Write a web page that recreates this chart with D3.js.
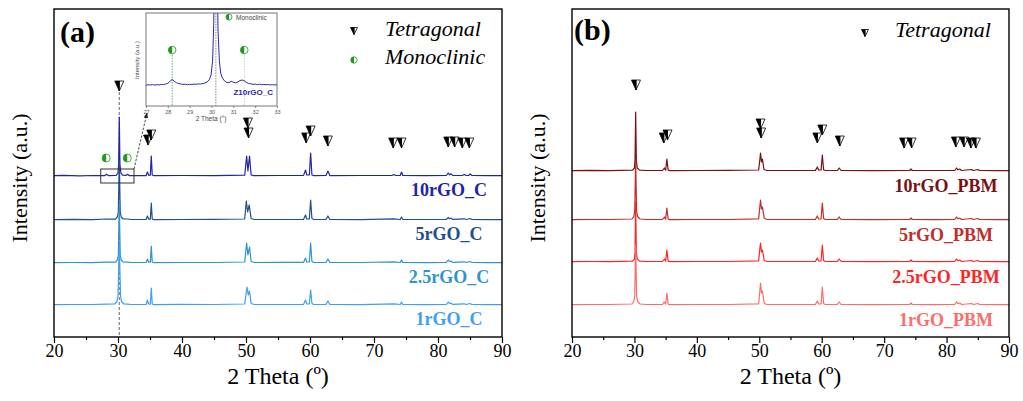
<!DOCTYPE html>
<html>
<head>
<meta charset="utf-8">
<script src="https://cdn.jsdelivr.net/npm/d3@7"></script>
<style>
body { margin: 0; background: #fff; }
text { font-family: "Liberation Serif", "Times New Roman", serif; }
.sans { font-family: "Liberation Sans", Arial, sans-serif; }
</style>
</head>
<body>
<svg width="1023" height="401"></svg>
<script>
// ---- data (2 theta in degrees, intensity in a.u.) ----
var ticksX = [20, 30, 40, 50, 60, 70, 80, 90];
var minorX = [25, 35, 45, 55, 65, 75, 85];
var insetTicks = [27, 28, 29, 30, 31, 32, 33];

var namesA = ["10rGO_C", "5rGO_C", "2.5rGO_C", "1rGO_C"];
var namesB = ["10rGO_PBM", "5rGO_PBM", "2.5rGO_PBM", "1rGO_PBM"];
var offsetsA = [161, 117, 74, 32];
var offsetsB = [166, 117, 75, 32];
var colorsA = ["#2323a8", "#1f4f8c", "#2d95cc", "#3d9ff5"];
var colorsB = ["#7a0f14", "#bf2e2a", "#ff2424", "#ff6b6b"];

var c10 = [[20,0.3],[21.5,0.6],[24,0.2],[26,0.5],[27.9,0.3],[28.2,1.8],[28.5,0.4],[29.7,0.6],[30.0,3],[30.1,12],[30.2,59],[30.3,12],[30.45,3],[30.7,0.8],[31.2,0.6],[31.45,1.6],[31.8,0.4],[34.4,0.4],[34.6,4],[34.8,0.6],[35.05,0.8],[35.2,20],[35.35,1],[35.6,0.3],[40,0.5],[45,0.4],[49.8,0.8],[50.1,20],[50.3,5],[50.55,20],[50.8,1],[51.2,0.4],[55,0.5],[59.0,0.6],[59.3,6],[59.5,1],[59.9,1],[60.1,23],[60.3,1],[60.6,0.4],[62.5,0.5],[62.8,5],[63.1,0.4],[68,0.5],[72.8,0.5],[73.1,1.5],[73.4,0.5],[74.1,0.5],[74.3,4],[74.5,0.5],[78,0.4],[81.3,0.5],[81.6,3],[81.8,1.2],[82.0,2.2],[82.3,0.6],[83.8,0.5],[84.1,1.5],[84.4,0.5],[84.8,0.6],[85.0,2],[85.3,0.5],[88,0.4],[90,0.3]];
var c5 = [[20,0.3],[23,0.6],[26,0.4],[28.2,1],[29.6,0.9],[29.9,3],[30.05,8],[30.2,60],[30.35,8],[30.5,3],[30.8,1],[31.5,1],[32,0.5],[34.4,0.5],[34.6,4],[34.8,0.8],[35.05,0.9],[35.2,17],[35.35,1],[35.6,0.4],[40,0.5],[45,0.6],[49.8,1],[50.05,19],[50.25,8],[50.5,15],[50.8,1.5],[51.3,0.5],[55,0.5],[59.0,0.7],[59.3,5],[59.5,1],[59.9,1.2],[60.1,20],[60.3,1.5],[60.6,0.5],[62.5,0.6],[62.8,4],[63.1,0.5],[68,0.4],[73.1,1.2],[74.1,0.5],[74.3,3],[74.5,0.5],[78,0.5],[81.3,0.6],[81.6,2.5],[81.8,1.2],[82.0,2],[82.3,0.6],[84.1,1.2],[84.4,0.5],[85.0,1.5],[85.3,0.5],[88,0.4],[90,0.3]];
var c25 = [[20,0.3],[23,0.5],[26,0.4],[28.2,0.9],[29.6,0.9],[29.9,3],[30.05,8],[30.2,60],[30.35,8],[30.5,3],[30.8,1],[31.5,0.9],[32,0.5],[34.4,0.5],[34.6,4],[34.8,0.8],[35.05,0.9],[35.2,17],[35.35,1],[35.6,0.4],[40,0.5],[45,0.5],[49.8,1],[50.1,20],[50.3,8],[50.55,16],[50.8,1.5],[51.3,0.5],[55,0.6],[59.0,0.7],[59.3,5],[59.5,1],[59.9,1.2],[60.1,20],[60.3,1.5],[60.6,0.5],[62.5,0.6],[62.8,4],[63.1,0.5],[68,0.5],[73.1,1.2],[74.1,0.5],[74.3,3],[74.5,0.5],[78,0.4],[81.3,0.6],[81.6,3],[81.8,1.3],[82.0,2],[82.3,0.6],[84.1,1.2],[84.4,0.5],[85.0,1.5],[85.3,0.5],[88,0.4],[90,0.3]];
var c1 = [[20,0.3],[23,0.5],[26,0.5],[28.2,0.9],[29.5,1],[29.85,3.5],[30.0,9],[30.2,60],[30.4,9],[30.55,3.5],[30.9,1],[31.5,0.9],[32,0.5],[34.4,0.5],[34.6,5],[34.8,0.8],[35.05,0.9],[35.2,17],[35.35,1],[35.6,0.4],[40,0.6],[45,0.5],[49.8,1],[50.15,18],[50.35,10],[50.55,14],[50.8,1.5],[51.3,0.5],[55,0.5],[59.0,0.7],[59.3,5],[59.5,1],[59.9,1.2],[60.1,15],[60.3,1.5],[60.6,0.5],[62.5,0.6],[62.8,4],[63.1,0.5],[68,0.4],[73.1,1.2],[74.1,0.5],[74.3,3],[74.5,0.5],[78,0.4],[81.3,0.6],[81.6,3],[81.8,1.3],[82.0,2],[82.3,0.6],[84.1,1.2],[84.4,0.5],[85.0,1.5],[85.3,0.5],[88,0.4],[90,0.3]];

var p10 = [[20,0.3],[23,0.6],[26,0.4],[29.7,0.8],[30.0,3],[30.1,12],[30.2,59],[30.3,12],[30.45,3],[30.8,0.8],[32,0.5],[34.5,0.5],[34.8,3],[35.0,0.8],[35.2,12],[35.4,0.8],[35.7,0.4],[40,0.5],[45,0.6],[49.9,1],[50.1,12],[50.2,18],[50.35,9],[50.5,12],[50.75,1.5],[51.2,0.5],[55,0.5],[59.0,0.6],[59.3,4],[59.5,1],[59.9,1],[60.1,16],[60.3,1.2],[60.6,0.5],[62.5,0.5],[62.8,3],[63.1,0.5],[68,0.4],[74.1,0.5],[74.3,2],[74.5,0.5],[78,0.5],[81.3,0.5],[81.6,3],[81.8,1.2],[82.1,2],[82.4,0.5],[84.0,1.5],[84.3,0.5],[85.0,1.5],[85.3,0.5],[88,0.4],[90,0.3]];
var p5 = [[20,0.3],[23,0.5],[26,0.5],[29.6,1],[29.9,3.5],[30.05,9],[30.2,60],[30.35,9],[30.5,3.5],[30.9,1],[32,0.5],[34.5,0.5],[34.8,3],[35.0,0.8],[35.2,12],[35.4,0.8],[35.7,0.4],[40,0.5],[45,0.5],[49.9,1.2],[50.1,14],[50.2,20],[50.35,11],[50.5,13],[50.8,1.5],[51.3,0.5],[55,0.5],[59.0,0.7],[59.3,4],[59.5,1],[59.9,1.2],[60.1,17],[60.3,1.5],[60.6,0.5],[62.5,0.6],[62.8,3],[63.1,0.5],[68,0.4],[74.1,0.5],[74.3,2],[74.5,0.5],[78,0.4],[81.3,0.6],[81.6,3],[81.8,1.3],[82.1,2],[82.4,0.5],[84.0,1.5],[84.3,0.5],[85.0,1.5],[85.3,0.5],[88,0.4],[90,0.3]];
var p25 = [[20,0.3],[23,0.5],[26,0.4],[29.7,0.9],[30.0,3],[30.1,10],[30.2,60],[30.3,10],[30.45,3],[30.8,0.9],[32,0.5],[34.5,0.5],[34.8,3],[35.0,0.8],[35.2,12],[35.4,0.8],[35.7,0.4],[40,0.5],[45,0.5],[49.9,1.2],[50.1,14],[50.2,19],[50.35,10],[50.5,12],[50.8,1.5],[51.3,0.5],[55,0.5],[59.0,0.7],[59.3,4],[59.5,1],[59.9,1.2],[60.1,17],[60.3,1.5],[60.6,0.5],[62.5,0.6],[62.8,3],[63.1,0.5],[68,0.4],[74.1,0.5],[74.3,2],[74.5,0.5],[78,0.4],[81.3,0.6],[81.6,3],[81.8,1.3],[82.1,2],[82.4,0.5],[84.0,1.5],[84.3,0.5],[85.0,1.5],[85.3,0.5],[88,0.4],[90,0.3]];
var p1 = [[20,0.3],[23,0.5],[26,0.5],[29.6,1],[29.9,3.5],[30.05,9],[30.2,60],[30.35,9],[30.5,3.5],[30.9,1],[32,0.5],[34.5,0.5],[34.75,3],[35.0,0.8],[35.2,12],[35.4,0.8],[35.7,0.4],[40,0.5],[45,0.5],[49.9,1.2],[50.1,15],[50.2,22],[50.35,12],[50.5,14],[50.8,1.5],[51.3,0.5],[55,0.5],[59.0,0.7],[59.3,4],[59.5,1],[59.9,1.2],[60.1,18],[60.3,1.5],[60.6,0.5],[62.5,0.6],[62.8,3],[63.1,0.5],[68,0.4],[74.1,0.5],[74.3,2],[74.5,0.5],[78,0.4],[81.3,0.6],[81.6,3],[81.8,1.3],[82.1,2],[82.4,0.5],[84.0,1.5],[84.3,0.5],[85.0,1.5],[85.3,0.5],[88,0.4],[90,0.3]];

var tracesA = [c10, c5, c25, c1];
var tracesB = [p10, p5, p25, p1];

// reflection markers [2 theta, height in a.u.]
var tetraA = [[30.2,251],[34.7,197],[35.2,202],[50.3,214],[50.4,204],[59.4,199],[60.1,206],[62.8,196],[73.0,194],[74.3,194],[81.6,195],[82.6,195],[83.8,194],[84.9,194]];
var tetraB = [[30.25,252],[34.7,199],[35.3,202],[50.2,213],[50.3,204],[59.3,199],[60.1,207],[62.9,196],[73.2,194],[74.4,194],[81.5,195],[82.8,195],[83.9,194],[84.7,194]];
var monoA = [[28.15,179],[31.45,179]];

// zoomed inset of 10rGO_C between 27 and 33 degrees
var insetTrace = [[27.0,20.8],[27.1,21.3],[27.2,21.0],[27.3,21.4],[27.4,20.9],[27.5,21.3],[27.6,21.1],[27.7,21.6],[27.8,21.4],[27.9,22.0],[28.0,22.8],[28.1,24.6],[28.2,26.6],[28.3,24.6],[28.4,23.2],[28.5,22.4],[28.6,22.0],[28.7,21.6],[28.8,21.8],[28.9,21.3],[29.0,21.7],[29.1,21.5],[29.2,21.9],[29.3,21.7],[29.4,22.1],[29.5,22.0],[29.6,22.5],[29.7,23.0],[29.8,24.0],[29.9,26.5],[29.98,31],[30.05,45],[30.1,80],[30.14,130],[30.26,130],[30.3,75],[30.36,45],[30.42,33],[30.5,28],[30.6,25],[30.7,23.6],[30.8,23.4],[30.9,24.6],[31.0,23.8],[31.1,23.2],[31.2,24.0],[31.3,25.4],[31.4,26.0],[31.5,25.2],[31.6,23.6],[31.7,22.6],[31.8,22.2],[31.9,21.6],[32.0,21.9],[32.1,21.4],[32.2,21.8],[32.3,21.3],[32.4,21.6],[32.5,21.2],[32.6,21.5],[32.7,21.1],[32.8,21.4],[32.9,21.0],[33.0,21.3]];
var insetMono = [[28.2,56],[31.5,56]];
var insetBoxX = [27.3, 32.5];
var insetBoxY = [154, 168];

// ---- drawing ----
var svg = d3.select("svg");
var y = d3.scaleLinear().domain([0, 328]).range([337, 9]);
var xA = d3.scaleLinear().domain([20, 90]).range([54, 502]);
var xB = d3.scaleLinear().domain([20, 90]).range([572, 1009]);

var defs = svg.append("defs");
defs.append("marker").attr("id", "arrow")
    .attr("viewBox", "0 0 10 10").attr("refX", 9).attr("refY", 5)
    .attr("markerWidth", 7).attr("markerHeight", 7).attr("orient", "auto")
  .append("path").attr("d", "M0,1 L10,5 L0,9 Z").attr("fill", "#222");

function tetragonal(g, cx, cy, w, h) {
  var t = cy - h / 2, b = cy + h / 2;
  g.append("path")
      .attr("d", "M" + cx + "," + t + "L" + (cx + w / 2) + "," + t + "L" + cx + "," + b + "Z")
      .attr("fill", "#fff").attr("stroke", "#000").attr("stroke-width", 0.8);
  g.append("path")
      .attr("d", "M" + (cx - w / 2) + "," + t + "L" + cx + "," + t + "L" + cx + "," + b + "Z")
      .attr("fill", "#000").attr("stroke", "#000").attr("stroke-width", 0.8);
}

function monoclinic(g, cx, cy, r) {
  g.append("circle").attr("cx", cx).attr("cy", cy).attr("r", r)
      .attr("fill", "#fff").attr("stroke", "#1f9a1f").attr("stroke-width", 0.8);
  g.append("path")
      .attr("d", "M" + cx + "," + (cy - r) + "A" + r + "," + r + " 0 0 0 " + cx + "," + (cy + r) + "Z")
      .attr("fill", "#1f9a1f");
}

function panel(x, traces, offsets, colors, names, tetra, labelX, labelDy) {
  var g = svg.append("g");
  var line = d3.line().x(function(d) { return x(d[0]); });

  traces.forEach(function(tr, i) {
    var off = offsets[i];
    g.append("path")
        .attr("d", line.y(function(d) { return y(d[1] + off); })(tr))
        .attr("fill", "none").attr("stroke", colors[i])
        .attr("stroke-width", 1.2).attr("stroke-linejoin", "round");
    g.append("text")
        .attr("x", labelX).attr("y", y(off) + labelDy)
        .attr("text-anchor", "middle").attr("font-size", 18).attr("font-weight", "bold")
        .attr("fill", colors[i]).text(names[i]);
  });

  tetra.forEach(function(d) { tetragonal(g, x(d[0]), y(d[1]), 9, 10); });

  var ax = g.append("g").attr("transform", "translate(0,337)")
      .call(d3.axisBottom(x).tickValues(ticksX).tickSize(6).tickPadding(1));
  ax.select(".domain").remove();
  ax.selectAll("line").attr("stroke-width", 1.2);
  ax.selectAll("text").attr("font-size", 18).attr("fill", "#000")
      .style("font-family", "'Liberation Serif', serif");
  var mi = g.append("g").attr("transform", "translate(0,337)")
      .call(d3.axisBottom(x).tickValues(minorX).tickSize(3).tickFormat(""));
  mi.select(".domain").remove();
  mi.selectAll("line").attr("stroke-width", 1.2);

  g.append("rect")
      .attr("x", x(20)).attr("y", 9)
      .attr("width", x(90) - x(20)).attr("height", 328)
      .attr("fill", "none").attr("stroke", "#000").attr("stroke-width", 1.4);

  var mid = (x(20) + x(90)) / 2;
  g.append("text").attr("x", mid).attr("y", 384)
      .attr("text-anchor", "middle").attr("font-size", 24).text("2 Theta (º)");
  g.append("text")
      .attr("transform", "translate(" + (x(20) - 27) + ",178) rotate(-90)")
      .attr("text-anchor", "middle").attr("font-size", 22).text("Intensity (a.u.)");
  return g;
}

// dashed guide at the main reflection (drawn first, behind the traces)
svg.append("line")
    .attr("x1", xA(30.2)).attr("x2", xA(30.2))
    .attr("y1", y(tetraA[0][1]) + 6).attr("y2", 337)
    .attr("stroke", "#555").attr("stroke-width", 0.9).attr("stroke-dasharray", "3,2");

var gA = panel(xA, tracesA, offsetsA, colorsA, namesA, tetraA, 449, 20);
var gB = panel(xB, tracesB, offsetsB, colorsB, namesB, tetraB, 946, 21);

monoA.forEach(function(d) { monoclinic(gA, xA(d[0]), y(d[1]), 4); });

// zoom box and arrow
gA.append("rect")
    .attr("x", xA(insetBoxX[0])).attr("y", y(insetBoxY[1]))
    .attr("width", xA(insetBoxX[1]) - xA(insetBoxX[0]))
    .attr("height", y(insetBoxY[0]) - y(insetBoxY[1]))
    .attr("fill", "none").attr("stroke", "#333").attr("stroke-width", 1);
gA.append("line")
    .attr("x1", xA(insetBoxX[1])).attr("y1", y(insetBoxY[1]))
    .attr("x2", 147).attr("y2", 113)
    .attr("stroke", "#222").attr("stroke-width", 0.8).attr("stroke-dasharray", "2.5,1.5")
    .attr("marker-end", "url(#arrow)");

// inset
var ix = d3.scaleLinear().domain([27, 33]).range([146, 277]);
var iy = d3.scaleLinear().domain([0, 93]).range([106, 13]);
var gi = svg.append("g");
gi.append("rect").attr("x", 146).attr("y", 13).attr("width", 131).attr("height", 93).attr("fill", "#fff");
defs.append("clipPath").attr("id", "insetClip")
  .append("rect").attr("x", 146).attr("y", 13).attr("width", 131).attr("height", 93);

gi.append("line").attr("x1", ix(30.2)).attr("x2", ix(30.2)).attr("y1", 13).attr("y2", 106)
    .attr("stroke", "#555").attr("stroke-width", 0.7).attr("stroke-dasharray", "1.5,1.2");
gi.append("line").attr("x1", ix(insetMono[0][0])).attr("x2", ix(insetMono[0][0]))
    .attr("y1", iy(insetMono[0][1]) + 5).attr("y2", 106)
    .attr("stroke", "#2a8a2a").attr("stroke-width", 0.7).attr("stroke-dasharray", "1.5,1.2");
gi.append("line").attr("x1", ix(insetMono[1][0])).attr("x2", ix(insetMono[1][0]))
    .attr("y1", iy(insetMono[1][1]) + 5).attr("y2", 106)
    .attr("stroke", "#9ac79a").attr("stroke-width", 0.7).attr("stroke-dasharray", "1.5,1.2");

gi.append("path")
    .attr("clip-path", "url(#insetClip)")
    .attr("d", d3.line().x(function(d) { return ix(d[0]); }).y(function(d) { return iy(d[1]); })(insetTrace))
    .attr("fill", "none").attr("stroke", "#2a2ab0").attr("stroke-width", 1);

insetMono.forEach(function(d) { monoclinic(gi, ix(d[0]), iy(d[1]), 3.8); });
monoclinic(gi, 229, 17, 3);
gi.append("text").attr("class", "sans").attr("x", 236).attr("y", 19.5)
    .attr("font-size", 6.5).attr("fill", "#444").text("Monoclinic");
gi.append("text").attr("class", "sans").attr("x", 273).attr("y", 95)
    .attr("text-anchor", "end").attr("font-size", 8).attr("font-weight", "bold")
    .attr("fill", "#2a2ab0").text("Z10rGO_C");

var iax = gi.append("g").attr("transform", "translate(0,106)")
    .call(d3.axisBottom(ix).tickValues(insetTicks).tickSize(2).tickPadding(2).tickFormat(d3.format("d")));
iax.select(".domain").remove();
iax.selectAll("line").attr("stroke", "#444").attr("stroke-width", 0.6);
iax.selectAll("text").attr("font-size", 5.5).attr("fill", "#555")
    .style("font-family", "'Liberation Sans', Arial, sans-serif");
gi.append("rect").attr("x", 146).attr("y", 13).attr("width", 131).attr("height", 93)
    .attr("fill", "none").attr("stroke", "#555").attr("stroke-width", 0.8);
gi.append("text").attr("class", "sans").attr("x", 211).attr("y", 121)
    .attr("text-anchor", "middle").attr("font-size", 6.5).attr("fill", "#444").text("2 Theta (°)");
gi.append("text").attr("class", "sans")
    .attr("transform", "translate(139,60) rotate(-90)")
    .attr("text-anchor", "middle").attr("font-size", 6).attr("fill", "#444").text("Intensity (a.u.)");

// legends and panel letters
tetragonal(gA, 354, 31, 7, 7);
gA.append("text").attr("x", 385).attr("y", 36).attr("font-size", 22).attr("font-style", "italic").text("Tetragonal");
monoclinic(gA, 354, 60, 3.2);
gA.append("text").attr("x", 385).attr("y", 64).attr("font-size", 22).attr("font-style", "italic").text("Monoclinic");
tetragonal(gB, 865, 33, 7, 7);
gB.append("text").attr("x", 895).attr("y", 37).attr("font-size", 22).attr("font-style", "italic").text("Tetragonal");

gA.append("text").attr("x", 60).attr("y", 42).attr("font-size", 30).attr("font-weight", "bold").text("(a)");
gB.append("text").attr("x", 574).attr("y", 40).attr("font-size", 30).attr("font-weight", "bold").text("(b)");
</script>
</body>
</html>
